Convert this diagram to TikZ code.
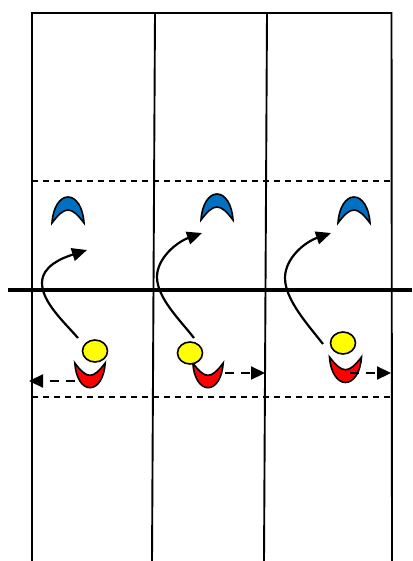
\documentclass[tikz,border=0pt]{standalone}
\usetikzlibrary{arrows.meta,shapes.geometric}
\definecolor{crblue}{HTML}{0070C0}
\definecolor{crred}{HTML}{FF0000}
\definecolor{cryellow}{HTML}{FFFF00}
\tikzset{
  fieldline/.style={line width=1.9pt, black},
  midline/.style={line width=3.6pt, black},
  zoneline/.style={line width=1.6pt, black, dash pattern=on 6pt off 5pt},
  ball/.style={ellipse, draw=black, line width=1.6pt, fill=cryellow, minimum width=25pt, minimum height=22pt, inner sep=0pt},
  runarrow/.style={line width=2.2pt, -{Triangle[length=15pt,width=13pt]}},
  passarrow/.style={line width=2.2pt, dash pattern=on 9pt off 7pt, -{Triangle[length=14pt,width=13pt]}},
  arch/.pic={
    \path[pic actions, draw=black, line width=1.6pt, line join=miter]
      (-16,0) .. controls (-15,-16) and (-8,-26) .. (0,-26)
      .. controls (8,-26) and (15,-16) .. (16,0)
      .. controls (10,-8) and (5,-13) .. (0,-13)
      .. controls (-5,-13) and (-10,-8) .. (-16,0) -- cycle;
  }
}
\begin{document}
\begin{tikzpicture}[x=1pt,y=-1pt]
\useasboundingbox (0,0) rectangle (412,561);
% field
\coordinate (tl) at (32,13);
\coordinate (tr) at (391.5,13);
\draw[fieldline] (32,561) -- (tl) -- (tr) -- (392,561);
\draw[fieldline] (155,13) -- (152,561);
\draw[fieldline] (267,13) -- (264,561);
\draw[zoneline] (32,181) -- (391.5,181);
\draw[zoneline] (32,397) -- (391.5,397);
\draw[midline] (8,290) -- (412,290);
% blue arches (defenders)
\pic[fill=crblue] (b1) at (68,223) {arch};
\pic[fill=crblue] (b2) at (217,220) {arch};
\pic[fill=crblue] (b3) at (354,223) {arch};
% red arches (attackers)
\pic[fill=crred, yscale=-0.95, xscale=0.95] (r1) at (90,363) {arch};
\pic[fill=crred, yscale=-0.95, xscale=0.95] (r2) at (208,363) {arch};
\pic[fill=crred, yscale=-0.98, xscale=1.0] (r3) at (345.5,357) {arch};
% balls
\node[ball] (y1) at (95,351) {};
\node[ball] (y2) at (190,353) {};
\node[ball] (y3) at (343,343) {};
% run arrows
\coordinate (s1) at (78,338);
\coordinate (l1) at (42,283);
\coordinate (t1) at (87,250);
\draw[runarrow] (s1) .. controls (64,322) and (42,302) .. (l1)
  .. controls (42,266) and (62,258) .. (t1);
\coordinate (s2) at (194,338);
\coordinate (l2) at (157,277);
\coordinate (t2) at (202,233);
\draw[runarrow] (s2) .. controls (180,320) and (157,298) .. (l2)
  .. controls (157,258) and (177,242) .. (t2);
\coordinate (s3) at (323,344);
\coordinate (l3) at (285,278);
\coordinate (t3) at (331,233);
\draw[runarrow] (s3) .. controls (309,326) and (285,300) .. (l3)
  .. controls (285,258) and (305,242) .. (t3);
% pass arrows
\coordinate (p1s) at (75,381);
\coordinate (p1e) at (29,381);
\draw[passarrow] (p1s) -- (p1e);
\coordinate (p2s) at (225,373);
\coordinate (p2e) at (265,373);
\draw[passarrow] (p2s) -- (p2e);
\coordinate (p3s) at (350,373);
\coordinate (p3e) at (391,373);
\draw[passarrow] (p3s) -- (p3e);
\end{tikzpicture}
\end{document}
